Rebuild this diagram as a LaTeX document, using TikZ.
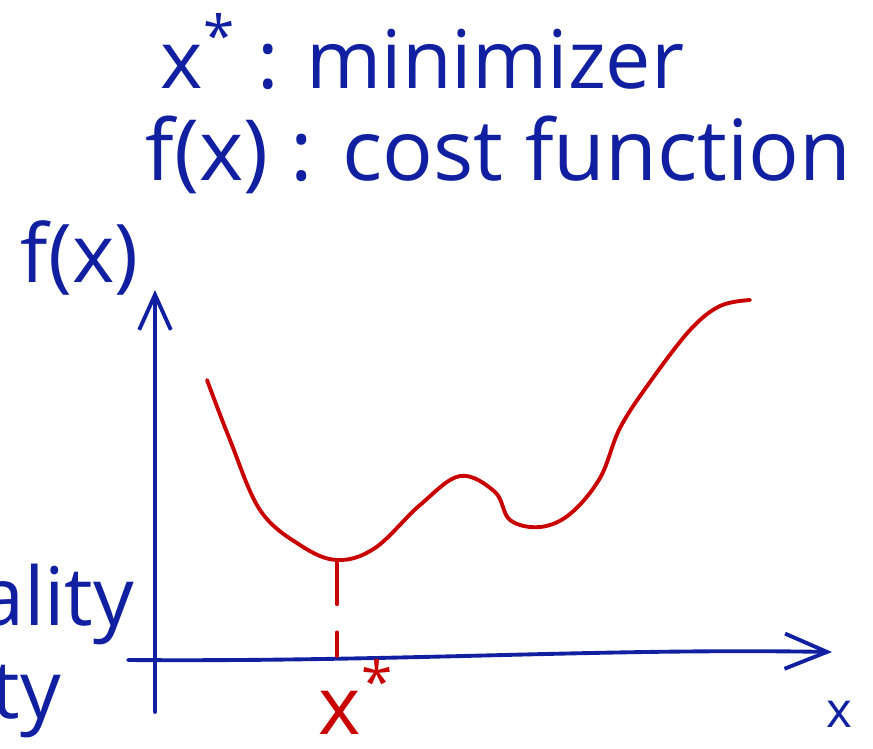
\documentclass[tikz,border=0pt]{standalone}
\usepackage{fontspec}
\setmainfont{Open Sans}
\usepackage{tikz}
\usetikzlibrary{positioning,calc,arrows.meta}

\definecolor{inkblue}{RGB}{16,32,160}
\definecolor{inkred}{RGB}{200,0,0}

\begin{document}
\begin{tikzpicture}[
  x=0.01cm,y=-0.01cm,
  ink/.style={inkblue,line width=1.1pt,line cap=round,line join=round},
  hand/.style={inkblue,inner sep=0pt,font=\fontsize{23}{25}\selectfont},
  curve/.style={inkred,line width=1.1pt,line cap=round,line join=round},
]
\useasboundingbox (0,0) rectangle (873,748);

% Heading
\node[hand,anchor=base west] (minim) at (160,88) {x\textsuperscript{*} : minimizer};
\node[hand,anchor=base west,font=\fontsize{24}{26}\selectfont] (cost) at (145,180) {f(x) : cost function};

% Axes
\coordinate (ybot) at (155,712);
\coordinate (ytop) at (155,290);
\coordinate (xleft) at (128,660);
\coordinate (xright) at (832,652);
\draw[ink,-{Straight Barb[length=10pt,width=9pt]}] (ybot) -- (ytop);
\draw[ink,-{Straight Barb[length=12pt,width=10pt]}] (xleft) .. controls (400,662) and (600,648) .. (xright);
\node[hand,anchor=base west] (fx) at (20,282) {f(x)};
\node[hand,anchor=base west,font=\fontsize{14}{16}\selectfont] (xlab) at (826,727) {x};

% Cut-off words on the left
\node[hand,anchor=base east] (word1) at (135,625) {ality};
\node[hand,anchor=base east] (word2) at (62,718) {ty};

% Cost curve
\draw[curve] plot[smooth,tension=0.6] coordinates {
  (207,380) (230,440) (260,510) (300,545) (337,560) (375,548) (420,505)
  (460,476) (495,492) (510,520) (540,527) (570,514) (600,478) (620,428)
  (650,382) (690,330) (720,306) (750,300)};

% Minimizer
\coordinate (xmin) at (337,562);
\coordinate (xminaxis) at (337,656);
\draw[curve,dashed,dash pattern=on 12pt off 8pt] (xmin) -- (xminaxis);
\node[hand,inkred,anchor=base west] (xstar) at (318,734) {x\textsuperscript{*}};

\end{tikzpicture}
\end{document}
